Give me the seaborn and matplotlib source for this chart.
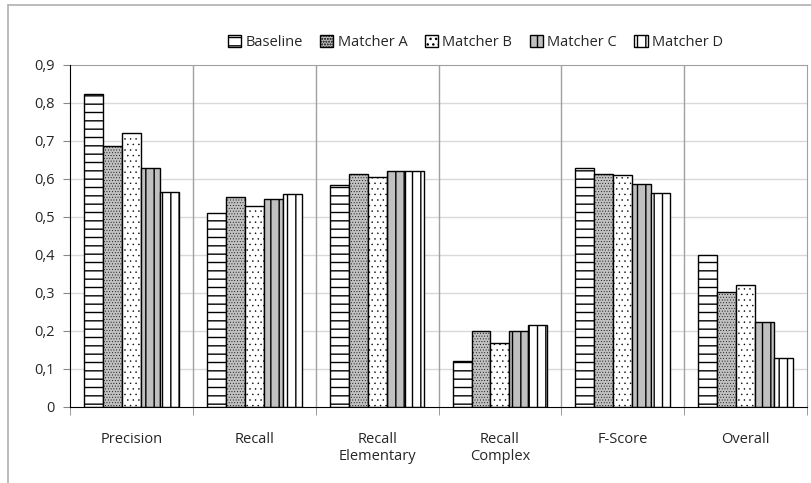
import numpy as np
import pandas as pd
import seaborn as sns
import matplotlib.pyplot as plt
from matplotlib.lines import Line2D

# values
categories = ['Precision', 'Recall', 'Recall\nElementary', 'Recall\nComplex', 'F-Score', 'Overall']
matchers = ['Baseline', 'Matcher A', 'Matcher B', 'Matcher C', 'Matcher D']
baseline = [0.824, 0.511, 0.585, 0.122, 0.630, 0.400]
matcher_a = [0.688, 0.553, 0.613, 0.200, 0.614, 0.302]
matcher_b = [0.720, 0.530, 0.605, 0.168, 0.610, 0.322]
matcher_c = [0.630, 0.548, 0.622, 0.200, 0.587, 0.224]
matcher_d = [0.566, 0.560, 0.622, 0.217, 0.564, 0.129]
y_ticks = [0, 0.1, 0.2, 0.3, 0.4, 0.5, 0.6, 0.7, 0.8, 0.9]
y_labels = ['0', '0,1', '0,2', '0,3', '0,4', '0,5', '0,6', '0,7', '0,8', '0,9']

df = pd.DataFrame({
    'Category': categories * 5,
    'Matcher': np.repeat(matchers, len(categories)),
    'Value': baseline + matcher_a + matcher_b + matcher_c + matcher_d,
})

sns.set_style('white')
plt.rcParams['font.family'] = ['Open Sans', 'DejaVu Sans']
plt.rcParams['hatch.linewidth'] = 1.0

fig = plt.figure(figsize=(8.11, 4.83), dpi=100)
ax = fig.add_axes([70 / 811, 1 - 407 / 483, 737 / 811, 342 / 483])

sns.barplot(data=df, x='Category', y='Value', hue='Matcher', order=categories,
            hue_order=matchers, width=0.77, ax=ax, legend=False, zorder=3)

# bar styles: fill colour, hatch, hatch line width per matcher
styles = [('white', '--', 1.0), ('#c0c0c0', '......', 0.3), ('white', '...', 0.3),
          ('#c0c0c0', '||', 1.0), ('white', '||', 1.0)]
for cont, (fc, h, hw) in zip(ax.containers, styles):
    for p in cont:
        p.set_facecolor(fc)
        p.set_edgecolor('black')
        p.set_hatch(h)
        p.set_linewidth(1.0)
        try:
            p.set_hatch_linewidth(hw)
        except AttributeError:
            pass

ax.set_xlim(-0.5, 5.5)
ax.set_ylim(0, 0.9)
ax.set_yticks(y_ticks)
ax.set_yticklabels(y_labels, fontsize=10.5)
ax.set_xticks(range(len(categories)))
ax.set_xticklabels(categories, fontsize=10.5)
ax.tick_params(axis='x', length=0, pad=18)
ax.tick_params(axis='y', length=5, color='#888888', direction='out', left=True, pad=6)
ax.set_xticks(np.arange(-0.5, 6, 1), minor=True)
ax.tick_params(axis='x', which='minor', length=6, color='#888888', bottom=True)
ax.set_xlabel('')
ax.set_ylabel('')

# gridlines and category separators
for y in y_ticks[1:-1]:
    ax.axhline(y, color='#d9d9d9', lw=1, zorder=0)
for x in np.arange(0.5, 5.5, 1):
    ax.axvline(x, color='#a0a0a0', lw=1, zorder=1)

for s in ['top', 'right']:
    ax.spines[s].set_color('#a0a0a0')
for s in ['left', 'bottom']:
    ax.spines[s].set_color('black')
    ax.spines[s].set_zorder(4)

leg = ax.legend(ax.containers, matchers, loc='center', bbox_to_anchor=(0.55, 1.067),
                ncol=5, frameon=False, fontsize=10.5, handlelength=0.9, handleheight=0.9,
                handletextpad=0.3, columnspacing=1.2)

# outer chart border (top and left visible)
fig.add_artist(Line2D([8 / 811, 8 / 811], [0, 1 - 5 / 483], color='#b0b0b0', lw=1.2))
fig.add_artist(Line2D([8 / 811, 1], [1 - 5 / 483, 1 - 5 / 483], color='#b0b0b0', lw=1.2))

fig.savefig('out.png', dpi=100)
